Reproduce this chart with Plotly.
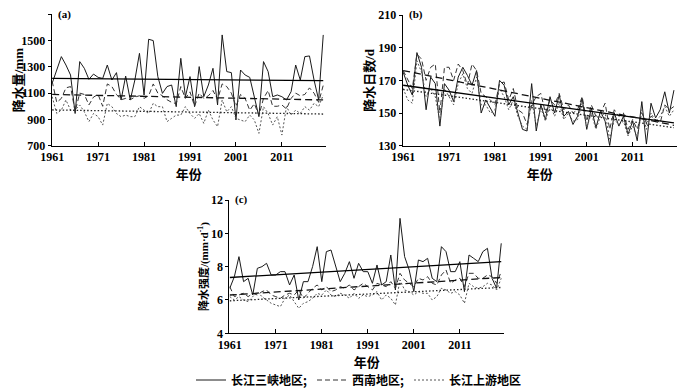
import plotly.graph_objects as go

years = list(range(1961, 2021))
xticks = [1961, 1971, 1981, 1991, 2001, 2011]
a_yticks = [700, 900, 1100, 1300, 1500, 1700]
b_yticks = [130, 150, 170, 190, 210]
c_yticks = [4, 6, 8, 10, 12]
names = ["长江三峡地区;", "西南地区;", "长江上游地区"]

# (a) precipitation, mm
a_sanxia = [1175, 1276, 1378, 1314, 1238, 945, 1340, 1289, 1205, 1245,
            1220, 1212, 1314, 1200, 1256, 1048, 1230, 1048, 1200, 1403,
            1086, 1510, 1500, 1226, 1098, 1150, 1162, 997, 1365, 1073,
            1226, 997, 1302, 1073, 1162, 1289, 1010, 1543, 1264, 1256,
            896, 1276, 1238, 1220, 1073, 921, 1340, 1264, 1073, 1086,
            1073, 1048, 1111, 1314, 1200, 1378, 1383, 1200, 1048, 1543]
a_xinan = [1190, 1030, 1060, 1140, 1150, 960, 1100, 1090, 1010, 1070,
           1090, 1000, 1170, 1150, 1090, 1050, 1060, 1050, 1070, 1080,
           1060, 1080, 1170, 1100, 1080, 1050, 1030, 1020, 1150, 1060,
           1110, 1000, 1100, 1060, 1080, 1120, 1050, 1170, 1150, 1100,
           1000, 1090, 1060, 970, 1020, 930, 1060, 1120, 1000, 1000,
           1010, 980, 1060, 1100, 1080, 1090, 1140, 1100, 1030, 1160]
a_shangyou = [1073, 945, 971, 1048, 971, 971, 1010, 958, 883, 945,
              921, 857, 1022, 997, 945, 921, 933, 921, 921, 997,
              971, 945, 1022, 997, 997, 883, 908, 933, 933, 997,
              945, 908, 945, 870, 971, 896, 845, 1048, 958, 997,
              908, 896, 883, 933, 896, 794, 997, 945, 857, 921,
              781, 997, 933, 971, 945, 997, 971, 1022, 997, 1086]
a_trends = [[1212, 1195], [1090, 1048], [972, 941]]

# (b) rain days, d
b_sanxia = [175, 167, 161, 187, 178, 152, 172, 168, 142, 168,
            164, 157, 172, 178, 173, 167, 176, 150, 158, 153,
            148, 170, 167, 155, 160, 150, 140, 139, 168, 139,
            155, 146, 160, 150, 161, 148, 151, 143, 148, 159,
            140, 153, 141, 151, 145, 130, 150, 142, 148, 137,
            145, 133, 157, 131, 156, 147, 152, 163, 150, 164]
b_xinan = [176, 170, 165, 186, 183, 170, 178, 180, 150, 178,
           178, 170, 180, 176, 167, 180, 176, 162, 160, 158,
           155, 168, 169, 158, 165, 152, 150, 143, 155, 160,
           162, 150, 158, 155, 162, 152, 155, 150, 152, 160,
           145, 155, 148, 150, 156, 140, 152, 148, 150, 140,
           146, 140, 150, 144, 148, 146, 144, 155, 152, 154]
b_shangyou = [165, 158, 156, 182, 175, 160, 165, 160, 145, 165,
              160, 155, 168, 174, 165, 162, 172, 155, 155, 150,
              152, 165, 160, 152, 158, 148, 142, 140, 158, 142,
              153, 145, 155, 148, 156, 146, 150, 145, 146, 156,
              141, 150, 140, 148, 150, 134, 146, 143, 145, 136,
              142, 135, 152, 140, 150, 145, 148, 154, 148, 152]
b_trends = [[167, 144], [176, 142.5], [164.5, 141]]

# (c) intensity, mm/d
c_sanxia = [6.7, 7.4, 8.6, 7.1, 7.3, 6.3, 7.9, 8.0, 8.2, 7.5,
            7.5, 7.7, 7.7, 6.9, 7.5, 6.0, 7.1, 7.1, 8.0, 9.2,
            7.1, 8.9, 9.0, 8.1, 7.1, 7.6, 8.3, 7.3, 8.2, 7.7,
            7.7, 7.0, 8.1, 6.9, 7.1, 8.7, 6.6, 10.9, 8.6, 7.8,
            6.5, 8.4, 8.3, 8.5, 7.3, 7.1, 9.2, 8.9, 7.7, 7.7,
            8.3, 6.5, 8.7, 8.5, 8.3, 8.9, 9.1, 7.3, 6.7, 9.4]
c_xinan = [6.8, 6.2, 6.3, 6.4, 6.2, 6.4, 6.3, 6.5, 6.6, 6.3,
           6.2, 6.1, 6.3, 6.4, 6.3, 6.6, 6.1, 6.4, 6.7, 6.9,
           6.6, 6.8, 6.5, 6.6, 6.8, 6.7, 6.9, 6.6, 6.8, 7.0,
           6.8, 6.6, 7.0, 6.9, 6.8, 7.1, 6.7, 7.6, 7.2, 7.0,
           6.8, 7.3, 7.2, 7.4, 7.0, 6.9, 7.5, 7.8, 7.0, 7.2,
           7.3, 6.8, 7.6, 7.6, 7.3, 7.3, 7.5, 7.4, 7.0, 7.7]
c_shangyou = [6.2, 6.0, 6.2, 6.0, 5.9, 6.2, 6.5, 6.2, 6.0, 5.8,
              5.7, 5.6, 6.1, 6.3, 5.9, 5.5, 5.8, 5.9, 6.1, 6.4,
              6.3, 6.6, 6.3, 6.2, 6.4, 6.3, 6.1, 6.4, 6.1, 6.3,
              6.2, 6.3, 6.5, 6.0, 6.3, 6.1, 5.7, 7.2, 6.6, 6.5,
              6.3, 6.5, 6.4, 6.4, 6.0, 6.2, 6.7, 6.6, 6.4, 6.5,
              6.3, 5.8, 7.0, 6.8, 6.7, 6.8, 7.0, 6.9, 6.6, 7.3]
c_trends = [[7.35, 8.3], [6.3, 7.35], [5.95, 6.75]]
trend_years = [1961, 2020]

line_styles = [dict(color="#1a1a1a", width=1.0, dash="solid"),
               dict(color="#333333", width=1.0, dash="5px,3px"),
               dict(color="#555555", width=1.0, dash="2px,2px")]
trend_styles = [dict(color="#000000", width=1.3, dash="solid"),
                dict(color="#111111", width=1.3, dash="7px,4px"),
                dict(color="#222222", width=1.3, dash="1.5px,2px")]

panels = [
    ("", [a_sanxia, a_xinan, a_shangyou], a_trends, False),
    ("2", [b_sanxia, b_xinan, b_shangyou], b_trends, False),
    ("3", [c_sanxia, c_xinan, c_shangyou], c_trends, True),
]

fig = go.Figure()
for suf, series, trends, show in panels:
    for i, s in enumerate(series):
        fig.add_trace(go.Scatter(x=years, y=s, mode="lines", name=names[i],
                                 line=line_styles[i], showlegend=show,
                                 xaxis="x" + suf, yaxis="y" + suf))
    for i, t in enumerate(trends):
        fig.add_trace(go.Scatter(x=trend_years, y=t, mode="lines",
                                 line=trend_styles[i], showlegend=False,
                                 xaxis="x" + suf, yaxis="y" + suf))

# page body adds an 8px margin; work in page pixels and shift
OFF = 8
W, H = 680, 383
tickfont = dict(family="Liberation Serif", size=12, color="black")
titlefont = dict(family="Noto Sans CJK SC", size=13, color="black")
SERIF = "<span style='font-family:Liberation Serif'>%s</span>"

def bold(vals):
    return ["<b>%s</b>" % v for v in vals]

def xax(x0, x1, y_anchor, standoff):
    return dict(domain=[(x0 - OFF) / W, (x1 - OFF) / W], anchor=y_anchor,
                range=[1960.9, 2020.6],
                tickvals=xticks, ticktext=bold(xticks), ticks="inside", ticklen=4,
                tickcolor="black", showline=True, linecolor="black", linewidth=1,
                showgrid=False, zeroline=False, tickfont=tickfont, automargin=False,
                title=dict(text="<b>年份</b>", font=titlefont, standoff=standoff))

def yax(top, bottom, x_anchor, rng, tv, title, size=13):
    return dict(domain=[1 - (bottom - OFF) / H, 1 - (top - OFF) / H], anchor=x_anchor,
                range=rng, tickvals=tv, ticktext=bold(tv), ticks="outside", ticklen=3,
                tickcolor="black", showline=True, linecolor="black", linewidth=1,
                showgrid=False, zeroline=False, tickfont=tickfont, automargin=False,
                title=dict(text=title, font=dict(titlefont, size=size), standoff=0))

fig.update_layout(
    width=W, height=H, autosize=False,
    margin=dict(l=0, r=0, t=0, b=0, autoexpand=False),
    paper_bgcolor="white", plot_bgcolor="white",
    xaxis=xax(51.7, 326, "y", 2),
    yaxis=yax(14.3, 145.7, "x", [700, 1700], a_yticks,
              "<b>降水量" + SERIF % "/mm" + "</b>"),
    xaxis2=xax(402.7, 676.7, "y2", 2),
    yaxis2=yax(15, 145.7, "x2", [130, 210], b_yticks,
               "<b>降水日数" + SERIF % "/d" + "</b>"),
    xaxis3=xax(229.3, 504, "y3", 0),
    yaxis3=yax(200, 333.3, "x3", [4, 12], c_yticks,
               "<b>降水强度" + SERIF % "/(mm·d<sup>-1</sup>)" + "</b>", size=11),
    legend=dict(orientation="h", x=(359 - OFF) / W, xanchor="center",
                y=1 - (380 - OFF) / H, yanchor="middle",
                font=dict(family="Noto Sans CJK SC", size=12, color="black", weight="bold"),
                itemwidth=30, bgcolor="rgba(0,0,0,0)", tracegroupgap=0),
    showlegend=True,
)

labels = [("(a)", "x domain", "y domain"), ("(b)", "x2 domain", "y2 domain"),
          ("(c)", "x3 domain", "y3 domain")]
for txt, xr, yr in labels:
    fig.add_annotation(text="<b>%s</b>" % txt, xref=xr, yref=yr, x=0.015, y=1.0,
                       xanchor="left", yanchor="middle", showarrow=False,
                       font=dict(family="Liberation Serif", size=11, color="black"))

fig.write_html("out.html")
